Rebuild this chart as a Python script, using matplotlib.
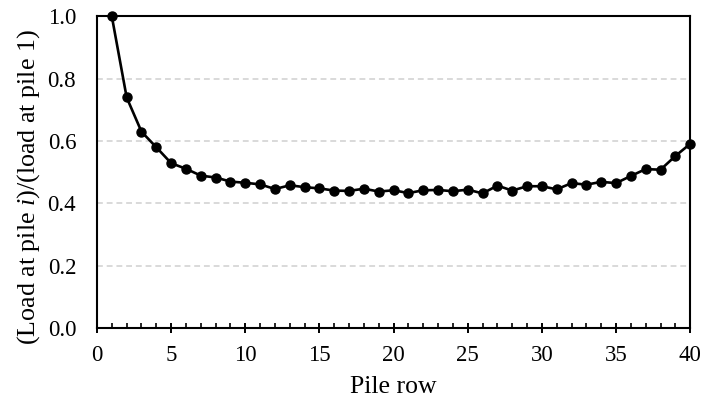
import numpy as np
import matplotlib.pyplot as plt
from matplotlib.ticker import MultipleLocator

plt.rcParams['font.family'] = ['Liberation Serif', 'DejaVu Serif']
plt.rcParams['mathtext.fontset'] = 'custom'
plt.rcParams['mathtext.rm'] = 'Liberation Serif'
plt.rcParams['mathtext.it'] = 'Liberation Serif:italic'

pile_row = list(range(1, 41))
load_ratio = [1.000, 0.740, 0.630, 0.580, 0.529, 0.511, 0.489, 0.483, 0.470, 0.466,
              0.461, 0.446, 0.458, 0.452, 0.448, 0.441, 0.440, 0.447, 0.438, 0.442,
              0.433, 0.442, 0.443, 0.439, 0.444, 0.432, 0.457, 0.441, 0.455, 0.455,
              0.445, 0.465, 0.460, 0.469, 0.465, 0.488, 0.510, 0.508, 0.552, 0.591]

fig = plt.figure(figsize=(7.05, 4.11), dpi=100)
ax = fig.add_axes([0.1376, 0.202, 0.979 - 0.1376, 0.96 - 0.202])

ax.plot(pile_row, load_ratio, color='black', linewidth=1.9, marker='o',
        markersize=6.5, clip_on=False, zorder=3)

ax.set_xlim(0, 40)
ax.set_ylim(0, 1.0)
ax.xaxis.set_major_locator(MultipleLocator(5))
ax.xaxis.set_minor_locator(MultipleLocator(1))
ax.yaxis.set_major_locator(MultipleLocator(0.2))
ax.yaxis.set_major_formatter(plt.FormatStrFormatter('%.1f'))

# dashed light grey gridlines (not at 0 and 1)
for yv in [0.2, 0.4, 0.6, 0.8]:
    ax.axhline(yv, color='#d9d9d9', linewidth=1.4, linestyle=(0, (3, 2)), zorder=0)

ax.tick_params(axis='x', which='major', direction='inout', length=7, width=1.4,
               labelsize=16.5, pad=9)
ax.tick_params(axis='x', which='minor', direction='in', length=3.5, width=1.2)
ax.tick_params(axis='y', which='both', length=0, labelsize=16.5, pad=15)

for s in ax.spines.values():
    s.set_linewidth(1.5)

ax.set_xlabel('Pile row', fontsize=18.5, labelpad=7)
ax.set_ylabel('(Load at pile $\\mathit{i}$)/(load at pile 1)', fontsize=18.7)
ax.yaxis.set_label_coords(-0.093, 0.452)

fig.savefig('out.png', dpi=100)
